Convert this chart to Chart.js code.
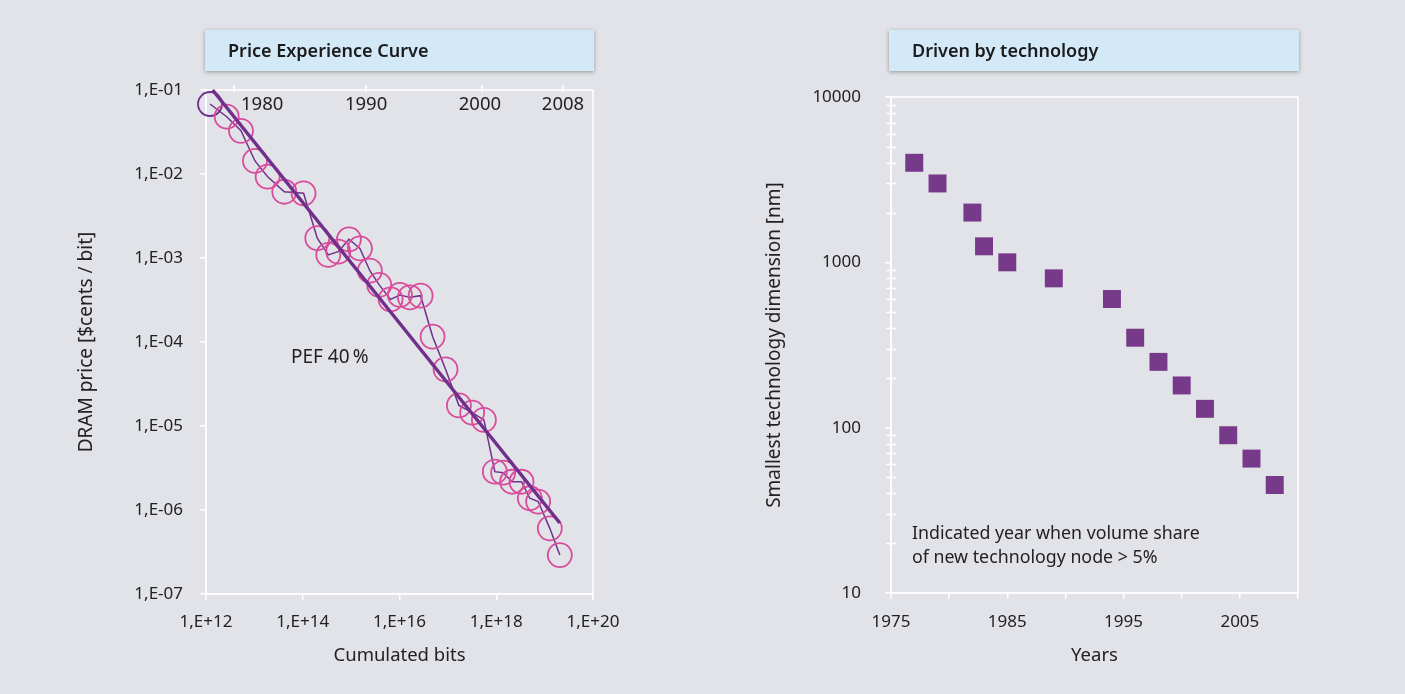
<!DOCTYPE html>
<html>
<head>
<meta charset="utf-8">
<script src="https://cdn.jsdelivr.net/npm/chart.js@4.4.1/dist/chart.umd.min.js"></script>
<style>
  html, body { margin: 0; padding: 0; }
  body {
    width: 1405px; height: 694px; position: relative; overflow: hidden;
    background: #e2e3e8; font-family: 'Noto Sans', sans-serif;
  }
  .panel { position: absolute; top: 0; height: 694px; }
  .title-box {
    position: absolute; top: 30px; height: 41px; box-sizing: border-box;
    padding-left: 23px; line-height: 41px;
    background: #d4e9f8; box-shadow: 0 1px 4px rgba(0, 0, 0, 0.35);
    font-size: 18px; font-weight: 600; color: #1b1b1b;
  }
</style>
</head>
<body>
<div class="panel" style="left:0;width:700px"><canvas id="chart-pec" width="700" height="694"></canvas></div>
<div class="panel" style="left:700px;width:705px"><canvas id="chart-tech" width="705" height="694"></canvas></div>
<div class="title-box" style="left:205px;width:389px">Price Experience Curve</div>
<div class="title-box" style="left:889px;width:410px">Driven by technology</div>

<script>
// Left panel: cumulated bits vs DRAM price
const bitsCum = [1.21e12, 2.68e12, 5.28e12, 1.03e13, 1.88e13, 4.15e13, 1.04e14, 2.0e14,
  3.37e14, 5.41e14, 9.02e14, 1.52e15, 2.44e15, 3.81e15, 6.55e15, 1.02e16, 1.64e16,
  2.73e16, 4.83e16, 8.95e16, 1.69e17, 3.18e17, 5.55e17, 9.35e17, 1.39e18, 2.13e18,
  3.33e18, 4.94e18, 7.35e18, 1.28e19, 2.06e19];
const priceCents = [6.81e-2, 4.81e-2, 3.27e-2, 1.43e-2, 9.29e-3, 6.15e-3, 5.89e-3, 1.72e-3,
  1.09e-3, 1.19e-3, 1.67e-3, 1.30e-3, 7.06e-4, 4.78e-4, 3.22e-4, 3.63e-4, 3.40e-4,
  3.56e-4, 1.16e-4, 4.73e-5, 1.76e-5, 1.44e-5, 1.18e-5, 2.86e-6, 2.78e-6, 2.17e-6,
  2.17e-6, 1.38e-6, 1.26e-6, 6.05e-7, 2.91e-7];

// PEF 40% trend line end points
const pefBits = [1.37e12, 2.06e19];
const pefPrice = [1.0e-1, 7.0e-7];

const bitsTicks = [1e12, 1e14, 1e16, 1e18, 1e20];
const priceTicks = [1e-7, 1e-6, 1e-5, 1e-4, 1e-3, 1e-2, 1e-1];

// Year markers along the top edge of the left plot
const yearLabels = ['1980', '1990', '2000', '2008'];
const yearTickBits = [3.8e12, 2.04e15, 5.0e17, 2.4e19];
const yearLabelBits = [1.45e13, 2.04e15, 4.6e17, 2.4e19];

// Right panel: smallest technology dimension per year
const techYears = [1977, 1979, 1982, 1983, 1985, 1989, 1994, 1996, 1998, 2000, 2002, 2004, 2006, 2008];
const techNm = [4000, 3000, 2000, 1250, 1000, 800, 600, 350, 250, 180, 130, 90, 65, 45];

const nmMajorTicks = [10, 100, 1000, 10000];
const nmMantissas = [2, 3, 4, 5, 6, 7, 8, 9];
const yearLabelTicks = [1975, 1985, 1995, 2005];

const PINK = '#d84c9b';
const PURPLE = '#6f2f8a';
const SQUARE = '#773a8b';
const TEXT = '#222';
const FONT = "'Noto Sans', sans-serif";

Chart.defaults.font.family = FONT;
Chart.defaults.font.size = 17;
Chart.defaults.color = TEXT;

const $ = (id) => document.getElementById(id);

// white frame, minor ticks, year ticks and free text notes
const framePlugin = {
  id: 'frame',
  beforeDatasetsDraw(chart, args, opts) {
    const { ctx, chartArea: a, scales } = chart;
    ctx.save();
    ctx.strokeStyle = '#fff';
    ctx.lineWidth = 1.5;
    ctx.strokeRect(a.left, a.top, a.right - a.left, a.bottom - a.top);
    (opts.minorY || []).forEach((v) => {
      const y = Math.round(scales.y.getPixelForValue(v)) + 0.5;
      ctx.beginPath();
      ctx.moveTo(a.left - 5, y);
      ctx.lineTo(a.left + 5, y);
      ctx.stroke();
    });
    ctx.restore();
  },
  afterDraw(chart, args, opts) {
    const { ctx, chartArea: a, scales } = chart;
    ctx.save();
    ctx.fillStyle = TEXT;
    if (opts.years) {
      ctx.font = `18.5px ${FONT}`;
      ctx.strokeStyle = '#fff';
      ctx.lineWidth = 1.5;
      opts.years.labels.forEach((lbl, i) => {
        const tx = scales.x.getPixelForValue(opts.years.ticks[i]);
        ctx.beginPath();
        ctx.moveTo(tx, a.top - 5);
        ctx.lineTo(tx, a.top + 2);
        ctx.stroke();
        ctx.textAlign = 'center';
        ctx.textBaseline = 'middle';
        ctx.fillText(lbl, scales.x.getPixelForValue(opts.years.at[i]), a.top + 15);
      });
    }
    (opts.notes || []).forEach((n) => {
      const x = scales.x.getPixelForValue(n.x);
      const y = scales.y.getPixelForValue(n.y);
      ctx.font = `${n.size}px ${FONT}`;
      ctx.textAlign = 'left';
      ctx.textBaseline = 'middle';
      n.lines.forEach((line, i) => ctx.fillText(line, x, y + i * 24));
    });
    ctx.restore();
  },
};

function expLabel(v) {
  const e = Math.round(Math.log10(v));
  return '1,E' + (e < 0 ? '-' : '+') + String(Math.abs(e)).padStart(2, '0');
}

function axisStyle(extra = {}) {
  return {
    border: { color: '#fff', width: 1.5 },
    grid: { drawOnChartArea: false, color: '#fff', lineWidth: 1.5, tickLength: 6 },
    ...extra,
  };
}

new Chart($('chart-pec'), {
  type: 'scatter',
  data: {
    datasets: [
      {
        label: 'PEF 40%',
        data: pefBits.map((b, i) => ({ x: b, y: pefPrice[i] })),
        showLine: true,
        borderColor: PURPLE,
        borderWidth: 3.5,
        pointRadius: 0,
        clip: false,
      },
      {
        label: 'DRAM price',
        data: bitsCum.map((b, i) => ({ x: b, y: priceCents[i] })),
        showLine: true,
        borderColor: PURPLE,
        borderWidth: 1.5,
        pointRadius: 12,
        pointBorderWidth: 1.8,
        pointBackgroundColor: 'transparent',
        pointBorderColor: (c) => (c.dataIndex === 0 ? PURPLE : PINK),
        clip: false,
      },
    ],
  },
  options: {
    responsive: false,
    animation: false,
    layout: { padding: { left: 75, top: 90, right: 107, bottom: 0 } },
    plugins: {
      legend: { display: false },
      tooltip: { enabled: false },
      frame: {
        years: { labels: yearLabels, ticks: yearTickBits, at: yearLabelBits },
        notes: [{ x: 5.7e13, y: 6.6e-5, size: 19, lines: ['PEF 40\u2009%'] }],
      },
    },
    scales: {
      x: axisStyle({
        type: 'logarithmic',
        min: 1e12,
        max: 1e20,
        afterBuildTicks: (s) => { s.ticks = bitsTicks.map((v) => ({ value: v })); },
        afterFit: (s) => { s.height = 100; },
        ticks: { padding: 12, autoSkip: false, maxRotation: 0, callback: (v) => expLabel(v) },
        title: {
          display: true, text: 'Cumulated bits', font: { size: 18.5 },
          padding: { top: 0, bottom: 27 },
        },
      }),
      y: axisStyle({
        type: 'logarithmic',
        min: 1e-7,
        max: 1e-1,
        afterBuildTicks: (s) => { s.ticks = priceTicks.map((v) => ({ value: v })); },
        afterFit: (s) => { s.width = 131; },
        ticks: { padding: 17, autoSkip: false, callback: (v) => expLabel(v) },
        title: {
          display: true, text: 'DRAM price [$cents / bit]', font: { size: 19 }, padding: 0,
        },
      }),
    },
  },
  plugins: [framePlugin],
});

// minor tick values for the nm axis: 2..9 within each decade
const nmMinorTicks = [];
nmMajorTicks.slice(0, -1).forEach((d) => nmMantissas.forEach((m) => nmMinorTicks.push(d * m)));

new Chart($('chart-tech'), {
  type: 'scatter',
  data: {
    datasets: [
      {
        label: 'Smallest dimension',
        data: techYears.map((y, i) => ({ x: y, y: techNm[i] })),
        pointStyle: 'rect',
        pointRadius: 12.7,
        pointBorderWidth: 0,
        pointBackgroundColor: SQUARE,
        pointBorderColor: SQUARE,
      },
    ],
  },
  options: {
    responsive: false,
    animation: false,
    layout: { padding: { left: 63, top: 97, right: 107, bottom: 0 } },
    plugins: {
      legend: { display: false },
      tooltip: { enabled: false },
      frame: {
        minorY: nmMinorTicks,
        notes: [{
          x: 1976.8,
          y: 22.9,
          size: 17.8,
          lines: ['Indicated year when volume share', 'of new technology node > 5%'],
        }],
      },
    },
    scales: {
      x: axisStyle({
        type: 'linear',
        min: 1975,
        max: 2010,
        afterFit: (s) => { s.height = 101; },
        ticks: {
          stepSize: 5, padding: 13, autoSkip: false, maxRotation: 0,
          callback: (v) => (yearLabelTicks.includes(v) ? String(v) : ''),
        },
        title: {
          display: true, text: 'Years', font: { size: 18.5 }, padding: { top: 0, bottom: 27 },
        },
      }),
      y: axisStyle({
        type: 'logarithmic',
        min: 10,
        max: 10000,
        afterBuildTicks: (s) => { s.ticks = nmMajorTicks.map((v) => ({ value: v })); },
        afterFit: (s) => { s.width = 128; },
        ticks: { padding: 24, autoSkip: false, callback: (v) => String(v) },
        title: {
          display: true, text: 'Smallest technology dimension [nm]', font: { size: 19 }, padding: 0,
        },
      }),
    },
  },
  plugins: [framePlugin],
});
</script>
</body>
</html>
